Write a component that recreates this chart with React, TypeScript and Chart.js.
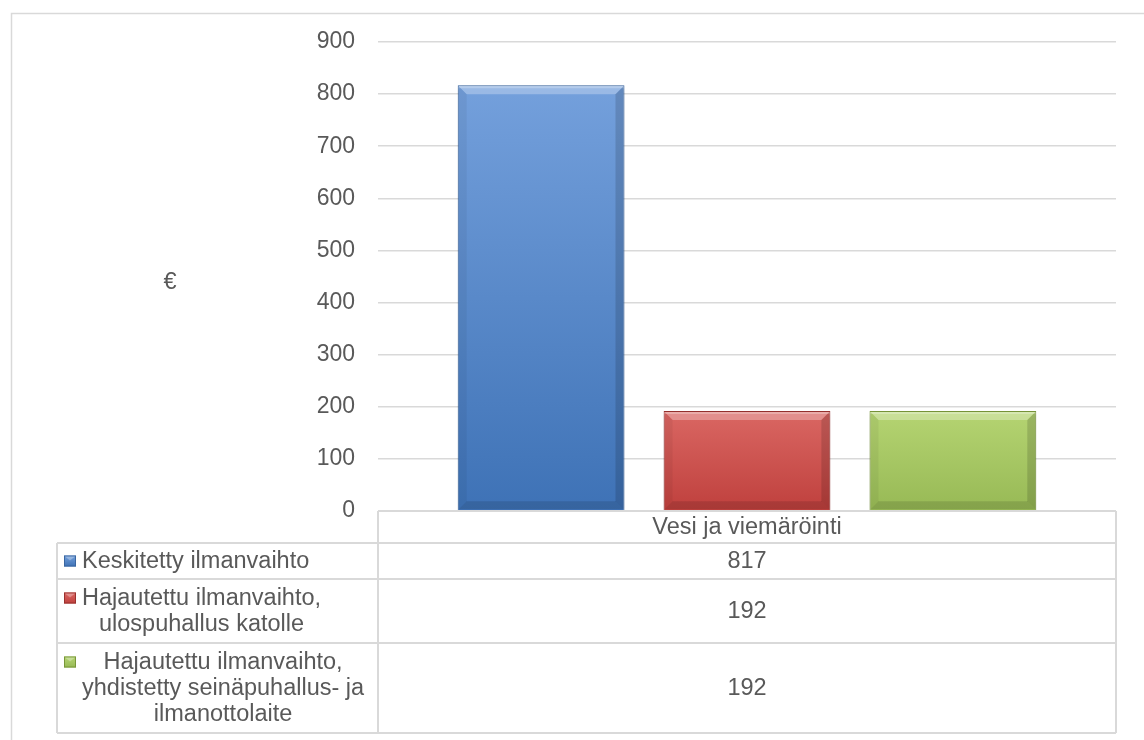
import React, { useEffect, useRef } from "react";
import { Chart, registerables } from "chart.js";

Chart.register(...registerables);

// ---------- data ----------
const categories = ["Vesi ja viemäröinti"];
const seriesNames = [
  ["Keskitetty ilmanvaihto"],
  ["Hajautettu ilmanvaihto,", "ulospuhallus katolle"],
  ["Hajautettu ilmanvaihto,", "yhdistetty seinäpuhallus- ja", "ilmanottolaite"],
];
const keskitettyValues = [817];
const katolleValues = [192];
const seinaValues = [192];
const yMin = 0;
const yMax = 900;
const yStep = 100;
const axisTitle = "€";

// ---------- styles ----------
const FONT = '"Liberation Sans", Arial, sans-serif';
const TEXT = "#595959";
const LINE = "#d9d9d9";
const palette = [
  { top: "#74a0dc", bottom: "#3e72b6", border: "#3a66a0" },
  { top: "#da6763", bottom: "#bf403d", border: "#98312e" },
  { top: "#b5d472", bottom: "#97b955", border: "#789639" },
];

function barGradient(ctx: any, i: number) {
  const chart = ctx.chart;
  const y = chart.scales?.y;
  if (!y || ctx.raw == null) return palette[i].bottom;
  const top = y.getPixelForValue(ctx.raw);
  const base = y.getPixelForValue(0);
  if (!isFinite(top) || !isFinite(base) || top === base) return palette[i].bottom;
  const g = chart.ctx.createLinearGradient(0, top, 0, base);
  g.addColorStop(0, palette[i].top);
  g.addColorStop(1, palette[i].bottom);
  return g;
}

const shadowPlugin = {
  id: "barShadow",
  beforeDatasetDraw(chart: any) {
    const c = chart.ctx;
    c.save();
    c.shadowColor = "rgba(0,0,0,0.22)";
    c.shadowBlur = 5;
    c.shadowOffsetY = 2;
  },
  afterDatasetDraw(chart: any) {
    chart.ctx.restore();
  },
};

const bevelPlugin = {
  id: "bevel",
  afterDatasetsDraw(chart: any) {
    const c = chart.ctx;
    chart.data.datasets.forEach((_: any, di: number) => {
      const meta = chart.getDatasetMeta(di);
      meta.data.forEach((el: any) => {
        const { x, y, base, width } = el.getProps(["x", "y", "base", "width"], true);
        const l = x - width / 2 + 1;
        const r = x + width / 2 - 1;
        const t = y + 1;
        const b = base - 1;
        const bv = 8;
        const poly = (pts: number[][], fill: string) => {
          c.beginPath();
          c.moveTo(pts[0][0], pts[0][1]);
          for (let k = 1; k < pts.length; k++) c.lineTo(pts[k][0], pts[k][1]);
          c.closePath();
          c.fillStyle = fill;
          c.fill();
        };
        c.save();
        poly([[l, t], [r, t], [r - bv, t + bv], [l + bv, t + bv]], "rgba(255,255,255,0.28)");
        poly([[l, t], [r, t], [r, t + 2], [l, t + 2]], "rgba(255,255,255,0.25)");
        poly([[l, t], [l + bv, t + bv], [l + bv, b - bv], [l, b]], "rgba(0,0,0,0.05)");
        poly([[r, t], [r, b], [r - bv, b - bv], [r - bv, t + bv]], "rgba(0,0,0,0.14)");
        poly([[l, b], [l + bv, b - bv], [r - bv, b - bv], [r, b]], "rgba(0,0,0,0.12)");
        c.restore();
      });
    });
  },
};

const tablePlugin = {
  id: "dataTable",
  afterDraw(chart: any) {
    const c = chart.ctx;
    const area = chart.chartArea;
    const xs = chart.scales.x;
    const left = xs.left;
    const right = xs.right;
    const tableLeft = 57;
    const headerTop = area.bottom;
    const rowHeights = [32, 36, 64, 90];
    const ys = [headerTop];
    rowHeights.forEach((h) => ys.push(ys[ys.length - 1] + h));
    const fontSize = 23.5;
    c.save();

    // outer chart border
    c.strokeStyle = LINE;
    c.lineWidth = 1.5;
    c.beginPath();
    c.moveTo(11.5, chart.height + 5);
    c.lineTo(11.5, 13.5);
    c.lineTo(chart.width + 5, 13.5);
    c.stroke();

    // table lines
    c.strokeStyle = LINE;
    c.lineWidth = 2;
    c.beginPath();
    c.moveTo(left, ys[0]);
    c.lineTo(right, ys[0]);
    for (let k = 1; k < ys.length; k++) {
      c.moveTo(tableLeft, ys[k]);
      c.lineTo(right, ys[k]);
    }
    c.moveTo(left, ys[0]);
    c.lineTo(left, ys[ys.length - 1]);
    c.moveTo(right, ys[0]);
    c.lineTo(right, ys[ys.length - 1]);
    c.moveTo(tableLeft, ys[1]);
    c.lineTo(tableLeft, ys[ys.length - 1]);
    c.stroke();

    c.fillStyle = TEXT;
    c.font = `${fontSize}px ${FONT}`;
    c.textBaseline = "middle";
    c.textAlign = "center";
    const cx = (left + right) / 2;
    // header
    c.fillText(categories[0], cx, (ys[0] + ys[1]) / 2 + 1);
    // values + series names
    chart.data.datasets.forEach((ds: any, i: number) => {
      const rt = ys[i + 1];
      const rb = ys[i + 2];
      const mid = (rt + rb) / 2;
      c.fillStyle = TEXT;
      c.textAlign = "center";
      c.fillText(String(ds.data[0]), cx, mid + 1);

      const lines = seriesNames[i];
      const lh = 26;
      const firstY = mid - ((lines.length - 1) * lh) / 2;
      const textX = 82;
      const blockW = Math.max(...lines.map((s) => c.measureText(s).width));
      lines.forEach((s, k) => {
        c.fillText(s, textX + blockW / 2, firstY + k * lh + 1);
      });
      // legend key
      const kx = 64;
      const ky = firstY - 5.5;
      const g = c.createLinearGradient(0, ky, 0, ky + 11);
      g.addColorStop(0, palette[i].top);
      g.addColorStop(1, palette[i].bottom);
      c.fillStyle = g;
      c.fillRect(kx, ky, 12, 11);
      c.strokeStyle = palette[i].border;
      c.lineWidth = 1;
      c.strokeRect(kx + 0.5, ky + 0.5, 11, 10);
      c.fillStyle = "rgba(255,255,255,0.3)";
      c.beginPath();
      c.moveTo(kx + 1, ky + 1);
      c.lineTo(kx + 11, ky + 1);
      c.lineTo(kx + 6, ky + 5);
      c.closePath();
      c.fill();
    });

    // axis title
    c.fillStyle = TEXT;
    c.textAlign = "center";
    c.fillText(axisTitle, 170, (area.top + area.bottom) / 2 + 6);
    c.restore();
  },
};

export default function App() {
  const ref = useRef<HTMLCanvasElement | null>(null);
  useEffect(() => {
    if (!ref.current) return;
    const chart = new Chart(ref.current, {
      type: "bar",
      data: {
        labels: categories,
        datasets: [
          { label: seriesNames[0].join(" "), data: keskitettyValues },
          { label: seriesNames[1].join(" "), data: katolleValues },
          { label: seriesNames[2].join(" "), data: seinaValues },
        ].map((d, i) => ({
          ...d,
          backgroundColor: (ctx: any) => barGradient(ctx, i),
          borderColor: palette[i].border,
          borderWidth: 1,
          categoryPercentage: 0.837,
          barPercentage: 0.81,
        })),
      },
      options: {
        responsive: false,
        animation: false,
        layout: { padding: { left: 0, right: 28, top: 42, bottom: 229 } },
        plugins: { legend: { display: false }, tooltip: { enabled: false }, title: { display: false } },
        scales: {
          x: { display: false },
          y: {
            min: yMin,
            max: yMax,
            ticks: {
              stepSize: yStep,
              color: TEXT,
              font: { family: FONT, size: 23 },
              padding: 23,
            },
            grid: { color: LINE, lineWidth: 1.5, drawTicks: false },
            border: { display: false },
            afterFit: (s: any) => {
              s.width = 378;
            },
          },
        },
      },
      plugins: [shadowPlugin, bevelPlugin, tablePlugin],
    });
    return () => chart.destroy();
  }, []);
  return (
    <div style={{ position: "absolute", left: 0, top: 0, width: 1144, height: 740, background: "#fff" }}>
      <canvas ref={ref} width={1144} height={740} style={{ display: "block", width: 1144, height: 740 }} />
    </div>
  );
}
